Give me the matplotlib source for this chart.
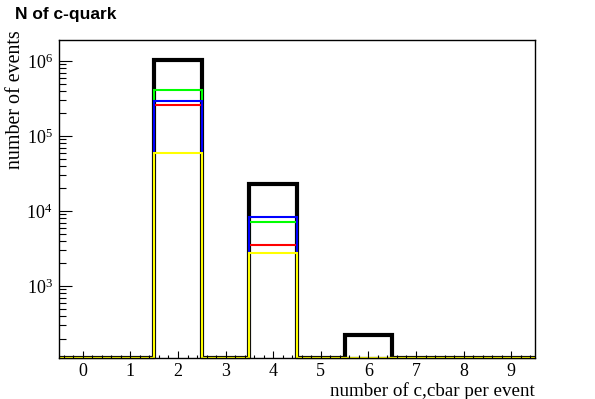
import numpy as np
import matplotlib
matplotlib.use("Agg")
import matplotlib.pyplot as plt
from matplotlib.ticker import FixedLocator, MultipleLocator, NullFormatter, FixedFormatter

# ---- data ----
edges = np.arange(-0.5, 10.5, 1.0)
xticks = [0, 1, 2, 3, 4, 5, 6, 7, 8, 9]
n_all    = [0, 0, 1.03e6, 0, 2.3e4, 0, 222, 0, 0, 0]
n_green  = [0, 0, 4.1e5,  0, 7.2e3, 0, 0, 0, 0, 0]
n_red    = [0, 0, 2.6e5,  0, 3.55e3, 0, 0, 0, 0, 0]
n_blue   = [0, 0, 2.9e5,  0, 8.4e3, 0, 0, 0, 0, 0]
n_yellow = [0, 0, 6.0e4,  0, 2.78e3, 0, 0, 0, 0, 0]
yticks = [1e3, 1e4, 1e5, 1e6]
ytick_labels = [r"$\mathregular{10^{3}}$", r"$\mathregular{10^{4}}$",
                r"$\mathregular{10^{5}}$", r"$\mathregular{10^{6}}$"]
title = "N of c-quark"
xlabel = "number of c,cbar per event"
ylabel = "number of events"

ymin, ymax = 110, 1.9e6
serif = "Liberation Serif"
plt.rcParams["mathtext.fontset"] = "custom"
plt.rcParams["mathtext.rm"] = serif

fig = plt.figure(figsize=(5.95, 3.99), dpi=100)
ax = fig.add_axes([59/595, 1 - 358/399, 476/595, 318/399])
ax.set_yscale("log")
ax.set_xlim(-0.5, 9.5)
ax.set_ylim(ymin, ymax)

def draw(vals, color, lw, clip):
    v = np.maximum(np.asarray(vals, float), ymin)
    ax.stairs(v, edges, baseline=None, color=color, linewidth=lw,
              clip_on=clip)

draw(n_all, "black", 3.0, True)
draw(n_green, "#00ff00", 1.5, False)
draw(n_red, "#ff0000", 1.5, False)
draw(n_blue, "#0000ff", 1.5, False)
draw(n_yellow, "#ffff00", 1.5, False)

for s in ax.spines.values():
    s.set_linewidth(1.0)
    s.set_zorder(1)

ax.xaxis.set_major_locator(FixedLocator(xticks))
ax.xaxis.set_minor_locator(MultipleLocator(0.2))
ax.set_xticklabels([str(t) for t in xticks])
ax.yaxis.set_major_locator(FixedLocator(yticks))
ax.yaxis.set_major_formatter(FixedFormatter(ytick_labels))
minors = [m * 10**d for d in range(2, 7) for m in range(2, 10)]
ax.yaxis.set_minor_locator(FixedLocator([m for m in minors if ymin < m < ymax]))
ax.yaxis.set_minor_formatter(NullFormatter())

ax.tick_params(axis="x", which="major", direction="in", length=5, width=0.8,
               top=False, pad=3.5, labelsize=13)
ax.tick_params(axis="x", which="minor", direction="in", length=2.5, width=0.8,
               top=False)
ax.tick_params(axis="y", which="major", direction="in", length=9.5, width=0.8,
               right=False, pad=4.5, labelsize=13)
ax.tick_params(axis="y", which="minor", direction="in", length=5, width=0.8,
               right=False)
for lab in ax.get_xticklabels() + ax.get_yticklabels():
    lab.set_fontfamily(serif)

fig.text(15/595, 1 - 14/399, title, fontfamily="Liberation Sans",
         fontweight="bold", fontsize=12.5, ha="left", va="center")
fig.text(535/595, 1 - 391/399, xlabel, fontfamily=serif, fontsize=13.7,
         ha="right", va="center")
fig.text(16/595, 1 - 30/399, ylabel, fontfamily=serif, fontsize=14.4,
         ha="center", va="top", rotation=90)

fig.savefig("out.png", dpi=100)
